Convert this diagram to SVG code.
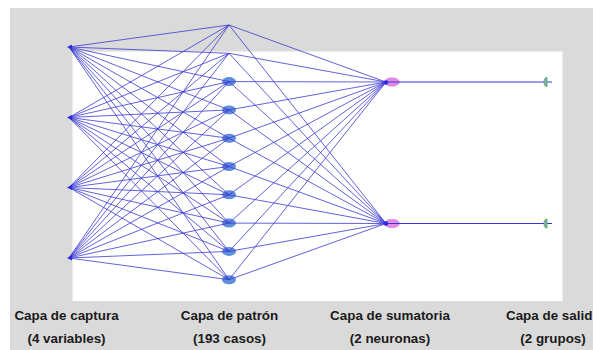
<svg xmlns="http://www.w3.org/2000/svg" width="593" height="350" viewBox="0 0 593 350">
<style>
.ln{stroke:#3c3cd2;stroke-width:0.95;fill:none;stroke-opacity:0.85}
.out{stroke:#3636d8;stroke-width:1.1;fill:none}
.pat{fill:#5f8fdc}
.sum{fill:#e48ae4;stroke:#c878d0;stroke-width:0.5}
.dot{fill:#2a2ae0}
.onode{fill:#7fb89a;stroke:#4f9a70;stroke-width:0.8}
.lbl{font-family:"Liberation Sans",Arial,sans-serif;font-weight:bold;font-size:13.4px;fill:#1a1a1a;text-anchor:middle}
</style>
<rect x="0" y="0" width="593" height="350" fill="#ffffff"/>
<rect x="10" y="8" width="583" height="342" fill="#dadada"/>
<rect x="72.5" y="51.5" width="490" height="249.5" fill="#ffffff"/>
<g id="pattern-nodes">
<ellipse class="pat" cx="229" cy="81.6" rx="7" ry="4.5"/>
<ellipse class="pat" cx="229" cy="109.9" rx="7" ry="4.5"/>
<ellipse class="pat" cx="229" cy="138.2" rx="7" ry="4.5"/>
<ellipse class="pat" cx="229" cy="166.5" rx="7" ry="4.5"/>
<ellipse class="pat" cx="229" cy="194.8" rx="7" ry="4.5"/>
<ellipse class="pat" cx="229" cy="223.1" rx="7" ry="4.5"/>
<ellipse class="pat" cx="229" cy="251.4" rx="7" ry="4.5"/>
<ellipse class="pat" cx="229" cy="279.7" rx="7" ry="4.5"/>
</g>
<g id="sum-nodes">
<ellipse class="sum" cx="392" cy="82" rx="7.5" ry="4.3"/>
<ellipse class="sum" cx="392" cy="223.5" rx="7.5" ry="4.3"/>
</g>
<g id="connectors">
<path class="ln" d="M69,47L229,25M69,47L229,53.3M69,47L229,81.6M69,47L229,109.9M69,47L229,138.2M69,47L229,166.5M69,47L229,194.8M69,47L229,223.1M69,47L229,251.4M69,47L229,279.7"/>
<path class="ln" d="M69,117.5L229,25M69,117.5L229,53.3M69,117.5L229,81.6M69,117.5L229,109.9M69,117.5L229,138.2M69,117.5L229,166.5M69,117.5L229,194.8M69,117.5L229,223.1M69,117.5L229,251.4M69,117.5L229,279.7"/>
<path class="ln" d="M69,187.5L229,25M69,187.5L229,53.3M69,187.5L229,81.6M69,187.5L229,109.9M69,187.5L229,138.2M69,187.5L229,166.5M69,187.5L229,194.8M69,187.5L229,223.1M69,187.5L229,251.4M69,187.5L229,279.7"/>
<path class="ln" d="M69,258L229,25M69,258L229,53.3M69,258L229,81.6M69,258L229,109.9M69,258L229,138.2M69,258L229,166.5M69,258L229,194.8M69,258L229,223.1M69,258L229,251.4M69,258L229,279.7"/>
<path class="ln" d="M229,25L386,82M229,53.3L386,82M229,81.6L386,82M229,109.9L386,82M229,138.2L386,82M229,166.5L386,82M229,194.8L386,82M229,223.1L386,82M229,251.4L386,82M229,279.7L386,82"/>
<path class="ln" d="M229,25L386,223.5M229,53.3L386,223.5M229,81.6L386,223.5M229,109.9L386,223.5M229,138.2L386,223.5M229,166.5L386,223.5M229,194.8L386,223.5M229,223.1L386,223.5M229,251.4L386,223.5M229,279.7L386,223.5"/>
<path class="out" d="M386,82H552M386,223.5H552"/>
</g>
<g id="input-nodes">
<path class="dot" d="M67,47l5,-2.5l0,5z"/>
<path class="dot" d="M67,117.5l5,-2.5l0,5z"/>
<path class="dot" d="M67,187.5l5,-2.5l0,5z"/>
<path class="dot" d="M67,258l5,-2.5l0,5z"/>
</g>
<g id="sum-dots">
<circle class="dot" cx="386" cy="82.5" r="2.2"/>
<circle class="dot" cx="386" cy="223.5" r="2.2"/>
</g>
<g id="output-nodes">
<path class="onode" d="M547,77.5A3,4.5 0 0 0 547,86.5Z"/>
<path class="onode" d="M547,219A3,4.5 0 0 0 547,228Z"/>
</g>
<g id="labels">
<text class="lbl" x="66.5" y="320">Capa de captura</text>
<text class="lbl" x="66.5" y="343">(4 variables)</text>
<text class="lbl" x="229.5" y="320">Capa de patrón</text>
<text class="lbl" x="229.5" y="343">(193 casos)</text>
<text class="lbl" x="390" y="320">Capa de sumatoria</text>
<text class="lbl" x="390" y="343">(2 neuronas)</text>
<text class="lbl" x="506" y="320" style="text-anchor:start">Capa de salid</text>
<text class="lbl" x="553" y="343">(2 grupos)</text>
</g>
</svg>
